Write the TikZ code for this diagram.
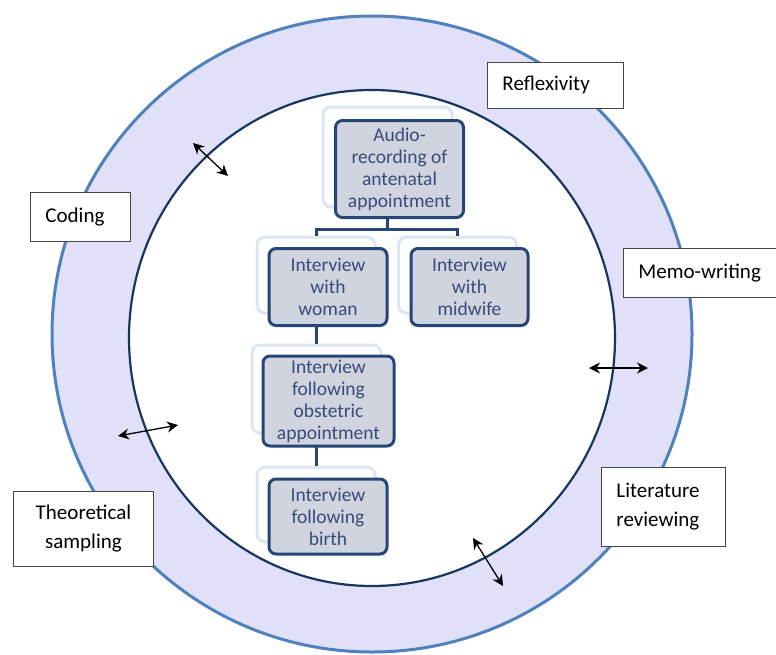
\documentclass[tikz,border=0pt]{standalone}
\usepackage{fontspec}
\setmainfont{Carlito}
\usetikzlibrary{arrows.meta,positioning}

\definecolor{ringfill}{RGB}{224,224,248}
\definecolor{ringline}{RGB}{79,129,189}
\definecolor{innerline}{RGB}{23,55,94}
\definecolor{boxfill}{RGB}{208,212,222}
\definecolor{boxline}{RGB}{38,70,120}
\definecolor{boxtext}{RGB}{58,74,122}
\definecolor{ghostline}{RGB}{220,230,242}
\definecolor{tagline}{RGB}{70,70,70}

\tikzset{
  mainbox/.style={draw=boxline, line width=3pt, fill=boxfill, rounded corners=7pt,
    text=boxtext, align=center, inner sep=0pt, font=\fontsize{19.5}{22}\selectfont},
  ghostbox/.style={draw=ghostline, line width=3pt, fill=white, rounded corners=8pt, inner sep=0pt},
  tagbox/.style={draw=tagline, line width=0.9pt, fill=white, inner xsep=15pt, inner ysep=0pt,
    font=\fontsize{21}{29}\selectfont},
  link/.style={draw=boxline, line width=3pt},
  twoway/.style={{Stealth[length=11pt,width=11pt]}-{Stealth[length=11pt,width=11pt]}, line width=1.3pt}
}

\begin{document}
\begin{tikzpicture}[x=1pt,y=-1pt]
  \useasboundingbox (0,0) rectangle (776,654);

  % the two rings
  \draw[ringline, line width=3pt, fill=ringfill] (372,334) ellipse [x radius=320pt, y radius=318pt];
  \draw[innerline, line width=2.2pt, fill=white] (372,338) ellipse [x radius=243pt, y radius=248pt];

  % shadow shapes behind the boxes
  \node[ghostbox, minimum width=129pt, minimum height=100pt] (audioG) at (387.5,157) {};
  \node[ghostbox, minimum width=118pt, minimum height=76pt] (womanG) at (316,275) {};
  \node[ghostbox, minimum width=118pt, minimum height=76pt] (midwifeG) at (457.5,275) {};
  \node[ghostbox, minimum width=129pt, minimum height=88pt] (obstetricG) at (316.5,389) {};
  \node[ghostbox, minimum width=118pt, minimum height=75pt] (birthG) at (316,504.5) {};

  % links of the hierarchy
  \draw[link] (audioG.south) -- ++(0,21) coordinate (fork);
  \draw[link] (fork) -| (womanG.north);
  \draw[link] (fork) -| (midwifeG.north);
  \draw[link] (womanG.south) -- (womanG.south |- obstetricG.north);
  \draw[link] (obstetricG.south) -- (obstetricG.south |- birthG.north);

  % the boxes
  \node[mainbox, minimum width=128pt, minimum height=97pt] (audio) at ([shift={(12pt,-12pt)}]audioG) {Audio-\\recording of\\antenatal\\appointment};
  \node[mainbox, minimum width=118pt, minimum height=77pt] (woman) at ([shift={(12pt,-12pt)}]womanG) {Interview\\with\\woman};
  \node[mainbox, minimum width=117pt, minimum height=77pt] (midwife) at ([shift={(12pt,-12pt)}]midwifeG) {Interview\\with\\midwife};
  \node[mainbox, minimum width=131pt, minimum height=90pt] (obstetric) at ([shift={(12pt,-12pt)}]obstetricG) {Interview\\following\\obstetric\\appointment};
  \node[mainbox, minimum width=118pt, minimum height=75pt] (birth) at ([shift={(12pt,-12pt)}]birthG) {Interview\\following\\birth};

  % activities round the ring
  \node[tagbox, anchor=north west, text width=106pt, minimum height=46pt, align=left] (refl) at (487,62) {Reflexivity};
  \node[tagbox, anchor=north west, text width=70pt, minimum height=49pt, align=left] (coding) at (30,192) {Coding};
  \node[tagbox, anchor=north west, text width=122.5pt, minimum height=49pt, align=left] (memo) at (623,248) {Memo-writing};
  \node[tagbox, anchor=north west, text width=110pt, minimum height=75pt, align=center] (sampling) at (13,491) {Theoretical\\sampling};
  \node[tagbox, anchor=north west, text width=94pt, minimum height=79pt, align=left] (lit) at (601,467) {Literature\\reviewing};

  % two-way arrows across the inner ring
  \coordinate (tlA) at (193,143);
  \coordinate (tlB) at (228,176);
  \coordinate (lA) at (118,436);
  \coordinate (lB) at (178,425);
  \coordinate (rA) at (589,368);
  \coordinate (rB) at (648,368);
  \coordinate (bA) at (473,538);
  \coordinate (bB) at (503,586);
  \draw[twoway] (tlA) -- (tlB);
  \draw[twoway] (lA) -- (lB);
  \draw[twoway] (rA) -- (rB);
  \draw[twoway] (bA) -- (bB);
\end{tikzpicture}
\end{document}
